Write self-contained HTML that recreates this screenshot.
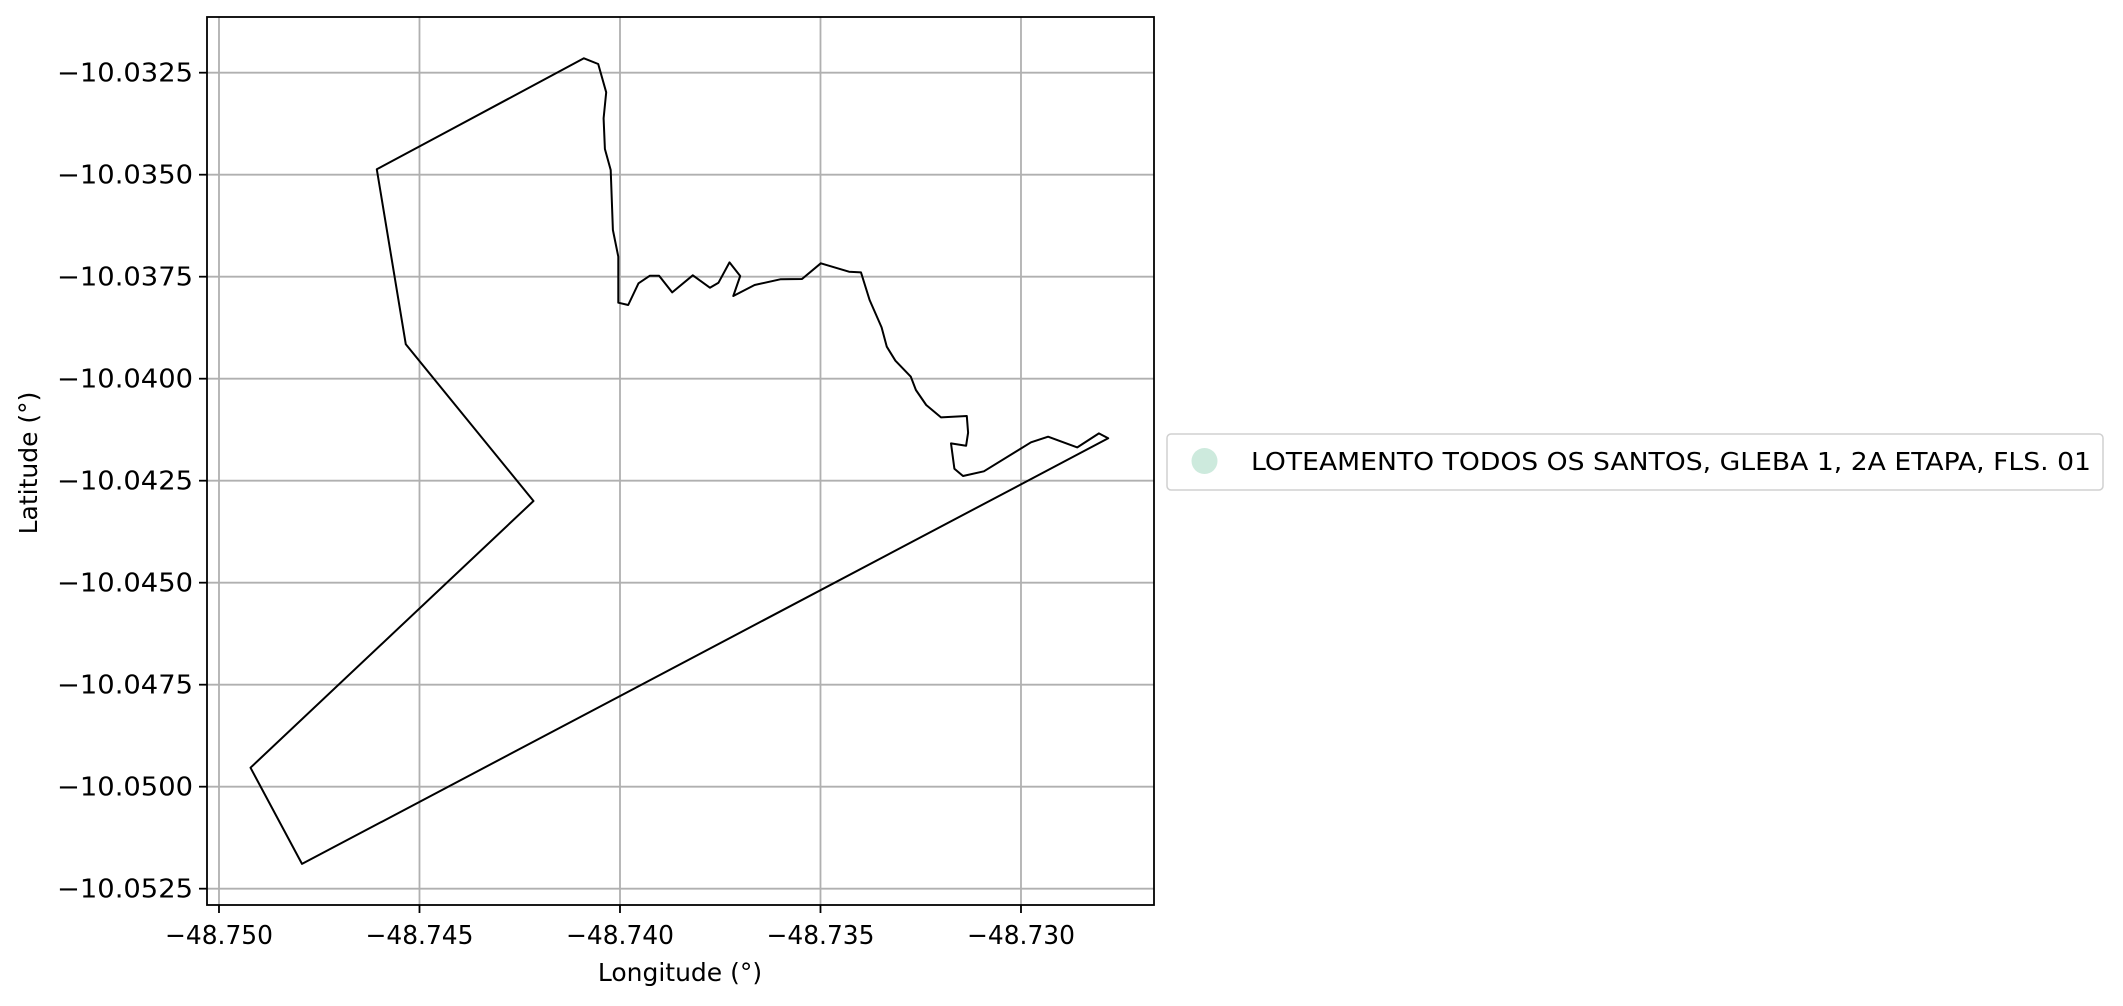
<!DOCTYPE html>
<html><head><meta charset="utf-8"><style>
html,body{margin:0;padding:0;background:#fff;}
svg{display:block;font-family:"DejaVu Sans","Liberation Sans",sans-serif;}
</style></head><body>
<svg id="chart" width="2123" height="1006" viewBox="0 0 2123 1006" xmlns="http://www.w3.org/2000/svg">
<rect x="0" y="0" width="2123" height="1006" fill="#fff"/>
<g id="grid"></g>
<g id="plot"></g>
<rect x="207" y="17" width="947" height="888" fill="none" stroke="#000" stroke-width="1.8"/>
<g id="xticks"></g>
<g id="yticks"></g>
<text x="680" y="981" font-size="25" text-anchor="middle">Longitude (°)</text>
<text x="0" y="0" font-size="25" text-anchor="middle" transform="translate(37,463) rotate(-90)">Latitude (°)</text>
<g>
<rect x="1167" y="434" width="936" height="56" rx="4" fill="#fff" stroke="#d0d0d0" stroke-width="1.5"/>
<circle cx="1204.5" cy="461" r="13" fill="#cdeadd"/>
<text x="1251" y="470" font-size="25" textLength="840" lengthAdjust="spacingAndGlyphs">LOTEAMENTO TODOS OS SANTOS, GLEBA 1, 2A ETAPA, FLS. 01</text>
</g>
</svg>
<script>
const xTicks = [-48.750, -48.745, -48.740, -48.735, -48.730];
const xTickLabels = ["\u221248.750", "\u221248.745", "\u221248.740", "\u221248.735", "\u221248.730"];
const yTicks = [-10.0325, -10.0350, -10.0375, -10.0400, -10.0425, -10.0450, -10.0475, -10.0500, -10.0525];
const yTickLabels = ["\u221210.0325", "\u221210.0350", "\u221210.0375", "\u221210.0400", "\u221210.0425", "\u221210.0450", "\u221210.0475", "\u221210.0500", "\u221210.0525"];
const lons = [-48.746065,-48.740900,-48.740544,-48.740343,-48.740409,-48.740377,-48.740232,-48.740177,-48.740042,-48.740042,
-48.739795,-48.739538,-48.739255,-48.739024,-48.738699,-48.738185,-48.737757,-48.737543,-48.737269,-48.737003,-48.737175,-48.736644,-48.736002,-48.735462,-48.734991,-48.734289,-48.733990,-48.733775,-48.733476,-48.733347,-48.733133,-48.732748,-48.732620,-48.732363,-48.731995,-48.731352,-48.731318,-48.731370,-48.731746,-48.731660,-48.731447,-48.730924,-48.729751,-48.729323,-48.728595,-48.728056,-48.727825,
-48.747930,-48.749215,-48.742157,-48.745342];
const lats = [-10.034868,-10.032147,-10.032287,-10.032980,-10.033618,-10.034370,-10.034885,-10.036355,-10.037010,-10.038137,
-10.038194,-10.037663,-10.037475,-10.037475,-10.037884,-10.037467,-10.037770,-10.037647,-10.037149,-10.037484,-10.037974,-10.037704,-10.037565,-10.037557,-10.037173,-10.037377,-10.037394,-10.038072,-10.038742,-10.039216,-10.039559,-10.039951,-10.040278,-10.040645,-10.040948,-10.040915,-10.041324,-10.041642,-10.041585,-10.042206,-10.042386,-10.042271,-10.041560,-10.041422,-10.041683,-10.041340,-10.041462,
-10.051892,-10.049534,-10.042998,-10.039157];
const X0=207, X1=1154, Y0=17, Y1=905;
const lonMin=-48.750299, lonMax=-48.726683, latTop=-10.031135, latBot=-10.052900;
function sx(v){return X0+(v-lonMin)/(lonMax-lonMin)*(X1-X0);}
function sy(v){return Y0+(latTop-v)/(latTop-latBot)*(Y1-Y0);}
const NS="http://www.w3.org/2000/svg";
const grid=document.getElementById('grid'), xt=document.getElementById('xticks'), yt=document.getElementById('yticks'), plot=document.getElementById('plot');
xTicks.forEach((t,i)=>{
  const x=sx(t);
  const g=document.createElementNS(NS,'line');
  
  
  g.setAttribute('x1',x);g.setAttribute('x2',x);g.setAttribute('y1',Y0);g.setAttribute('y2',Y1);
  g.setAttribute('stroke','#b0b0b0');g.setAttribute('stroke-width','1.8');grid.appendChild(g);
  const tk=document.createElementNS(NS,'line');
  
  
  tk.setAttribute('x1',x);tk.setAttribute('x2',x);tk.setAttribute('y1',Y1);tk.setAttribute('y2',Y1+8);
  tk.setAttribute('stroke','#000');tk.setAttribute('stroke-width','1.8');xt.appendChild(tk);
  const tx=document.createElementNS(NS,'text');
  
  
  tx.setAttribute('x',x);tx.setAttribute('y',944);tx.setAttribute('font-size','26');tx.setAttribute('text-anchor','middle');
  tx.setAttribute('textLength','108');tx.setAttribute('lengthAdjust','spacingAndGlyphs');
  tx.textContent=xTickLabels[i];xt.appendChild(tx);
});
yTicks.forEach((t,i)=>{
  const y=sy(t);
  const g=document.createElementNS(NS,'line');
  
  
  g.setAttribute('x1',X0);g.setAttribute('x2',X1);g.setAttribute('y1',y);g.setAttribute('y2',y);
  g.setAttribute('stroke','#b0b0b0');g.setAttribute('stroke-width','1.8');grid.appendChild(g);
  const tk=document.createElementNS(NS,'line');
  
  
  tk.setAttribute('x1',X0-8);tk.setAttribute('x2',X0);tk.setAttribute('y1',y);tk.setAttribute('y2',y);
  tk.setAttribute('stroke','#000');tk.setAttribute('stroke-width','1.8');yt.appendChild(tk);
  const tx=document.createElementNS(NS,'text');
  
  
  tx.setAttribute('x',X0-14);tx.setAttribute('y',y+9);tx.setAttribute('font-size','26');tx.setAttribute('text-anchor','end');
  tx.setAttribute('textLength','136');tx.setAttribute('lengthAdjust','spacingAndGlyphs');
  tx.textContent=yTickLabels[i];yt.appendChild(tx);
});
const poly=document.createElementNS(NS,'polygon');


poly.setAttribute('points',lons.map((v,i)=>sx(v).toFixed(1)+','+sy(lats[i]).toFixed(1)).join(' '));
poly.setAttribute('fill','none');poly.setAttribute('stroke','#000');poly.setAttribute('stroke-width','2');poly.setAttribute('stroke-linejoin','round');
plot.appendChild(poly);
</script>
</body></html>
